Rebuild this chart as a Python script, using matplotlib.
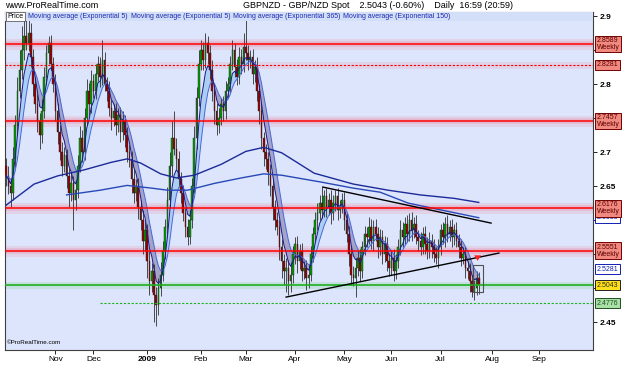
import numpy as np
import pandas as pd
import matplotlib
matplotlib.use("Agg")
import matplotlib.pyplot as plt
from matplotlib.patches import Rectangle
from matplotlib import transforms

plt.rcParams['font.family'] = ['Liberation Sans', 'DejaVu Sans']

# daily closes GBP/NZD, one per bar (early Oct 2008 .. 24 Jul 2009)
first_open = 2.680
close = [
    2.665, 2.650, 2.640, 2.690, 2.740, 2.790, 2.820, 2.850, 2.870, 2.860,
    2.875, 2.840, 2.800, 2.770, 2.745, 2.725, 2.760, 2.810, 2.845, 2.860,
    2.830, 2.800, 2.760, 2.730, 2.700, 2.680, 2.695, 2.665, 2.640, 2.655,
    2.630, 2.645, 2.680, 2.720, 2.700, 2.750, 2.790, 2.770, 2.805, 2.790,
    2.815, 2.830, 2.810, 2.835, 2.800, 2.790, 2.765, 2.750, 2.760, 2.740,
    2.755, 2.730, 2.745, 2.725, 2.700, 2.690, 2.660, 2.640, 2.650, 2.620,
    2.600, 2.570, 2.585, 2.540, 2.510, 2.525, 2.490, 2.475, 2.500, 2.520,
    2.555, 2.590, 2.630, 2.680, 2.720, 2.705, 2.690, 2.660, 2.640, 2.610,
    2.590, 2.575, 2.600, 2.650, 2.720, 2.780, 2.830, 2.850, 2.835, 2.860,
    2.845, 2.820, 2.790, 2.760, 2.740, 2.750, 2.770, 2.760, 2.790, 2.800,
    2.830, 2.850, 2.825, 2.810, 2.840, 2.830, 2.855, 2.845, 2.835, 2.840,
    2.815, 2.825, 2.790, 2.760, 2.720, 2.700, 2.690, 2.670, 2.650, 2.620,
    2.600, 2.590, 2.560, 2.540, 2.525, 2.530, 2.510, 2.520, 2.550, 2.565,
    2.540, 2.555, 2.525, 2.530, 2.515, 2.520, 2.550, 2.580, 2.600, 2.610,
    2.625, 2.615, 2.635, 2.620, 2.630, 2.610, 2.625, 2.635, 2.615, 2.620,
    2.630, 2.600, 2.580, 2.550, 2.520, 2.515, 2.530, 2.545, 2.525, 2.560,
    2.580, 2.575, 2.590, 2.570, 2.590, 2.580, 2.560, 2.575, 2.550, 2.565,
    2.540, 2.530, 2.545, 2.525, 2.540, 2.560, 2.585, 2.575, 2.595, 2.580,
    2.600, 2.585, 2.595, 2.575, 2.570, 2.560, 2.580, 2.565, 2.555, 2.570,
    2.560, 2.550, 2.545, 2.560, 2.585, 2.575, 2.595, 2.580, 2.590, 2.575,
    2.585, 2.570, 2.560, 2.545, 2.550, 2.530, 2.525, 2.510, 2.495, 2.500,
    2.515, 2.504,
]
# wick lengths above / below the body, in 0.001
up_wick = [
    12, 15, 10, 18, 15, 20, 30, 35, 30, 25,
    20, 15, 12, 10, 15, 12, 18, 15, 12, 10,
    12, 10, 15, 12, 10, 15, 12, 10, 12, 15,
    10, 12, 15, 18, 12, 15, 18, 12, 15, 10,
    15, 12, 10, 30, 12, 10, 15, 12, 10, 12,
    10, 12, 15, 10, 12, 10, 12, 15, 10, 12,
    10, 15, 12, 10, 15, 12, 10, 12, 15, 18,
    15, 12, 18, 20, 25, 40, 15, 12, 10, 12,
    10, 12, 15, 12, 18, 15, 20, 15, 12, 15,
    10, 12, 15, 10, 12, 15, 10, 12, 15, 10,
    12, 15, 10, 12, 15, 12, 20, 45, 12, 10,
    12, 10, 15, 10, 12, 10, 12, 10, 12, 10,
    10, 12, 10, 12, 10, 15, 12, 18, 12, 10,
    12, 10, 12, 10, 12, 15, 12, 10, 12, 15,
    12, 25, 10, 12, 10, 15, 12, 10, 12, 10,
    10, 12, 10, 12, 10, 12, 15, 10, 12, 10,
    12, 10, 15, 12, 10, 12, 10, 12, 10, 12,
    10, 12, 10, 12, 10, 12, 15, 12, 10, 12,
    10, 12, 10, 12, 10, 12, 10, 12, 10, 12,
    10, 12, 10, 12, 10, 12, 10, 12, 10, 12,
    10, 12, 10, 12, 10, 12, 10, 12, 10, 12,
    10, 8,
]
dn_wick = [
    15, 12, 20, 10, 12, 15, 10, 12, 15, 10,
    12, 15, 18, 12, 15, 20, 12, 10, 12, 15,
    10, 12, 15, 18, 12, 15, 10, 18, 20, 12,
    45, 15, 12, 10, 15, 12, 10, 15, 12, 10,
    12, 10, 15, 12, 10, 15, 12, 18, 12, 15,
    10, 15, 12, 18, 15, 12, 20, 15, 12, 18,
    15, 20, 15, 25, 20, 15, 40, 30, 15, 12,
    10, 12, 10, 12, 15, 10, 15, 12, 15, 12,
    15, 12, 10, 12, 10, 15, 12, 10, 15, 12,
    15, 12, 15, 18, 15, 12, 10, 15, 12, 10,
    12, 10, 15, 12, 10, 15, 12, 10, 15, 12,
    15, 12, 15, 18, 15, 20, 15, 18, 15, 20,
    15, 12, 18, 25, 20, 30, 20, 15, 12, 15,
    18, 12, 15, 12, 18, 15, 10, 12, 10, 15,
    10, 12, 10, 15, 12, 15, 10, 12, 15, 12,
    10, 15, 12, 18, 15, 12, 28, 12, 15, 10,
    12, 15, 10, 12, 15, 10, 15, 12, 15, 12,
    15, 12, 10, 15, 12, 10, 12, 15, 10, 12,
    10, 15, 12, 10, 15, 12, 10, 15, 12, 10,
    15, 12, 10, 15, 12, 10, 15, 12, 10, 15,
    12, 10, 15, 12, 10, 15, 12, 15, 8, 12,
    10, 12,
]

# long moving averages (bar index, value)
ema150_idx = [0, 12.5, 23, 35, 47, 54, 60, 69, 76, 84, 96, 107, 115, 123, 137.5, 155, 170.5, 185, 200, 211]
ema150_val = [2.622, 2.653, 2.665, 2.674, 2.685, 2.690, 2.684, 2.668, 2.662, 2.666,
              2.682, 2.701, 2.707, 2.699, 2.669, 2.653, 2.644, 2.637, 2.632, 2.626]
ema365_idx = [27, 42, 54, 65, 72, 81, 93, 105, 115, 123, 140.5, 155, 167, 179.5, 194, 211]
ema365_val = [2.637, 2.644, 2.651, 2.647, 2.644, 2.644, 2.654, 2.662, 2.668, 2.666,
              2.656, 2.647, 2.641, 2.625, 2.615, 2.6035]

# support / resistance levels
red_levels = [2.8589, 2.8281, 2.7457, 2.6176, 2.5551]
red_styles = ['-', '--', '-', '-', '-']
green_level = 2.5043
green_dash_level = 2.4776
green_dash_start = 42

# trend lines
tl_down_x = [141.5, 216.5]
tl_down_y = [2.6485, 2.5956]
tl_up_x = [125, 220]
tl_up_y = [2.4868, 2.5515]

month_pos = [22, 39, 63, 87, 107, 129, 151, 172, 194, 217, 238]
month_lab = ['Nov', 'Dec', '2009', 'Feb', 'Mar', 'Apr', 'May', 'Jun', 'Jul', 'Aug', 'Sep']

y_ticks = [2.45, 2.5, 2.55, 2.6, 2.65, 2.7, 2.75, 2.8, 2.85, 2.9]
# labels hidden behind the price boxes are left blank
y_tick_lab = ['2.45', '', '', '', '2.65', '2.7', '', '2.8', '', '2.9']

# ---------------------------------------------------------------
c = np.array(close)
o = np.array([first_open] + close[:-1])
idx = np.arange(len(c))
hi = np.maximum(o, c) + np.array(up_wick) / 1000.0
lo = np.minimum(o, c) - np.array(dn_wick) / 1000.0

s = pd.Series(c)
ema_a = s.ewm(span=5, adjust=False).mean().values
ema_b = pd.Series(ema_a).ewm(span=5, adjust=False).mean().values

fig = plt.figure(figsize=(6.25, 3.75), dpi=100)
ax = fig.add_axes([5 / 625, 1 - 350 / 375, 588 / 625, 338 / 375])
ax.set_facecolor('#dce5fb')
ax.set_xlim(-0.5, 262)
ax.set_ylim(2.409, 2.906)

# levels with glow
for lv, ls in zip(red_levels, red_styles):
    if ls == '-':
        ax.axhline(lv, color='#ff3050', lw=8, alpha=0.10, zorder=1)
        ax.axhline(lv, color='#ff3050', lw=4, alpha=0.15, zorder=1)
        ax.axhline(lv, color='#ff0000', lw=1.1, zorder=5)
    else:
        ax.axhline(lv, color='#ff3050', lw=5, alpha=0.10, zorder=1)
        ax.axhline(lv, color='#ff0000', lw=0.8, ls=(0, (2, 1.5)), zorder=5)
ax.axhline(green_level, color='#40c040', lw=5, alpha=0.15, zorder=1)
ax.axhline(green_level, color='#20b020', lw=1.2, zorder=5)
ax.plot([green_dash_start, 262], [green_dash_level] * 2, color='#20b020', lw=0.8,
        ls=(0, (2, 1.5)), zorder=5)

# EMA5 band
ax.fill_between(idx, ema_a, ema_b, where=ema_a >= ema_b, interpolate=True,
                color='#a6cdf3', alpha=0.9, lw=0, zorder=2)
ax.fill_between(idx, ema_a, ema_b, where=ema_a < ema_b, interpolate=True,
                color='#9a98bf', alpha=0.85, lw=0, zorder=2)

# candles
ax.vlines(idx, lo, hi, color='#303030', lw=0.6, zorder=3)
body_col = ['#00a000' if cc >= oo else '#a00000' for oo, cc in zip(o, c)]
height = np.where(np.abs(c - o) < 0.002, 0.002, c - o)
ax.bar(idx, height, bottom=o, width=0.7, color=body_col, edgecolor='#202020',
       linewidth=0.3, zorder=3)

ax.plot(idx, ema_b, color='#4a66d8', lw=0.7, zorder=4)
ax.plot(idx, ema_a, color='#18188a', lw=0.7, zorder=4)

ax.plot(ema150_idx, ema150_val, color='#1c2a9a', lw=1.0, zorder=4)
ax.plot(ema365_idx, ema365_val, color='#2848b8', lw=1.0, zorder=4)

ax.plot(tl_down_x, tl_down_y, color='black', lw=1.0, zorder=6)
ax.plot(tl_up_x, tl_up_y, color='black', lw=1.0, zorder=6)

# last bars box and arrow
ax.add_patch(Rectangle((208.5, 2.494), 4.5, 0.040, fill=False, ec='#505050', lw=0.8, zorder=6))
ax.annotate('', xy=(210.5, 2.536), xytext=(210.5, 2.552),
            arrowprops=dict(arrowstyle='simple,head_width=0.5,head_length=0.4,tail_width=0.25',
                            color='#ff2020', lw=0), zorder=7)

# axes
ax.yaxis.tick_right()
ax.set_yticks(y_ticks)
ax.set_yticklabels(y_tick_lab, fontsize=6, fontweight='bold')
ax.set_xticks(month_pos)
ax.set_xticklabels(month_lab, fontsize=6)
for t in ax.get_xticklabels():
    if t.get_text() == '2009':
        t.set_fontweight('bold')
ax.tick_params(axis='both', direction='out', length=3, width=0.6, pad=1.5, colors='black')
for sp in ax.spines.values():
    sp.set_color('#404040')
    sp.set_linewidth(0.8)

# price boxes on the right
tr = transforms.blended_transform_factory(ax.transAxes, ax.transData)
boxes = [
    (2.8589, '2.8589\nWeekly', '#f08a80', '#700000', '#600000'),
    (2.8281, '2.8281', '#f08a80', '#700000', '#600000'),
    (2.7457, '2.7457\nWeekly', '#f08a80', '#700000', '#600000'),
    (2.6035, '2.6035', 'white', '#1020b0', '#1020b0'),
    (2.6176, '2.6176\nWeekly', '#f08a80', '#700000', '#600000'),
    (2.5551, '2.5551\nWeekly', '#f08a80', '#700000', '#600000'),
    (2.5281, '2.5281', 'white', '#1020b0', '#1020b0'),
    (2.5043, '2.5043', '#ffe020', '#202020', '#303000'),
    (2.4776, '2.4776', '#a8e0a8', '#205020', '#205020'),
]
for k, (val, txt, fc, ec, tc) in enumerate(boxes):
    ax.text(1.006, val, txt, transform=tr, fontsize=5, color=tc, ha='left', va='center',
            linespacing=0.95, clip_on=False, zorder=10 + k,
            bbox=dict(boxstyle='square,pad=0.22', fc=fc, ec=ec, lw=0.7))

# legend row
ax.axhspan(2.893, 2.906, color='#d3def8', zorder=7, lw=0)
ax.text(2 / 588, 0.987, 'Price', transform=ax.transAxes, fontsize=5, va='center', ha='left',
        zorder=9, bbox=dict(boxstyle='square,pad=0.2', fc='white', ec='#404040', lw=0.5))
for px, lab in zip([28, 131, 233, 343],
                   ['Moving average (Exponential 5)', 'Moving average (Exponential 5)',
                    'Moving average (Exponential 365)', 'Moving average (Exponential 150)']):
    ax.text((px - 5) / 588, 0.987, lab, transform=ax.transAxes, fontsize=5, color='#1a2ab0',
            va='center', ha='left', zorder=9)

ax.text(2 / 588, 0.015, '\u00a9ProRealTime.com', transform=ax.transAxes, fontsize=4.5,
        va='bottom', ha='left', zorder=9)

fig.text(5 / 625, 1 - 6 / 375, 'www.ProRealTime.com', fontsize=6.5, va='center', ha='left')
fig.text(243 / 625, 1 - 6 / 375, 'GBPNZD - GBP/NZD Spot    2.5043 (-0.60%)    Daily  16:59 (20:59)',
         fontsize=6.5, va='center', ha='left')

fig.savefig('out.png', dpi=100, facecolor='white')
